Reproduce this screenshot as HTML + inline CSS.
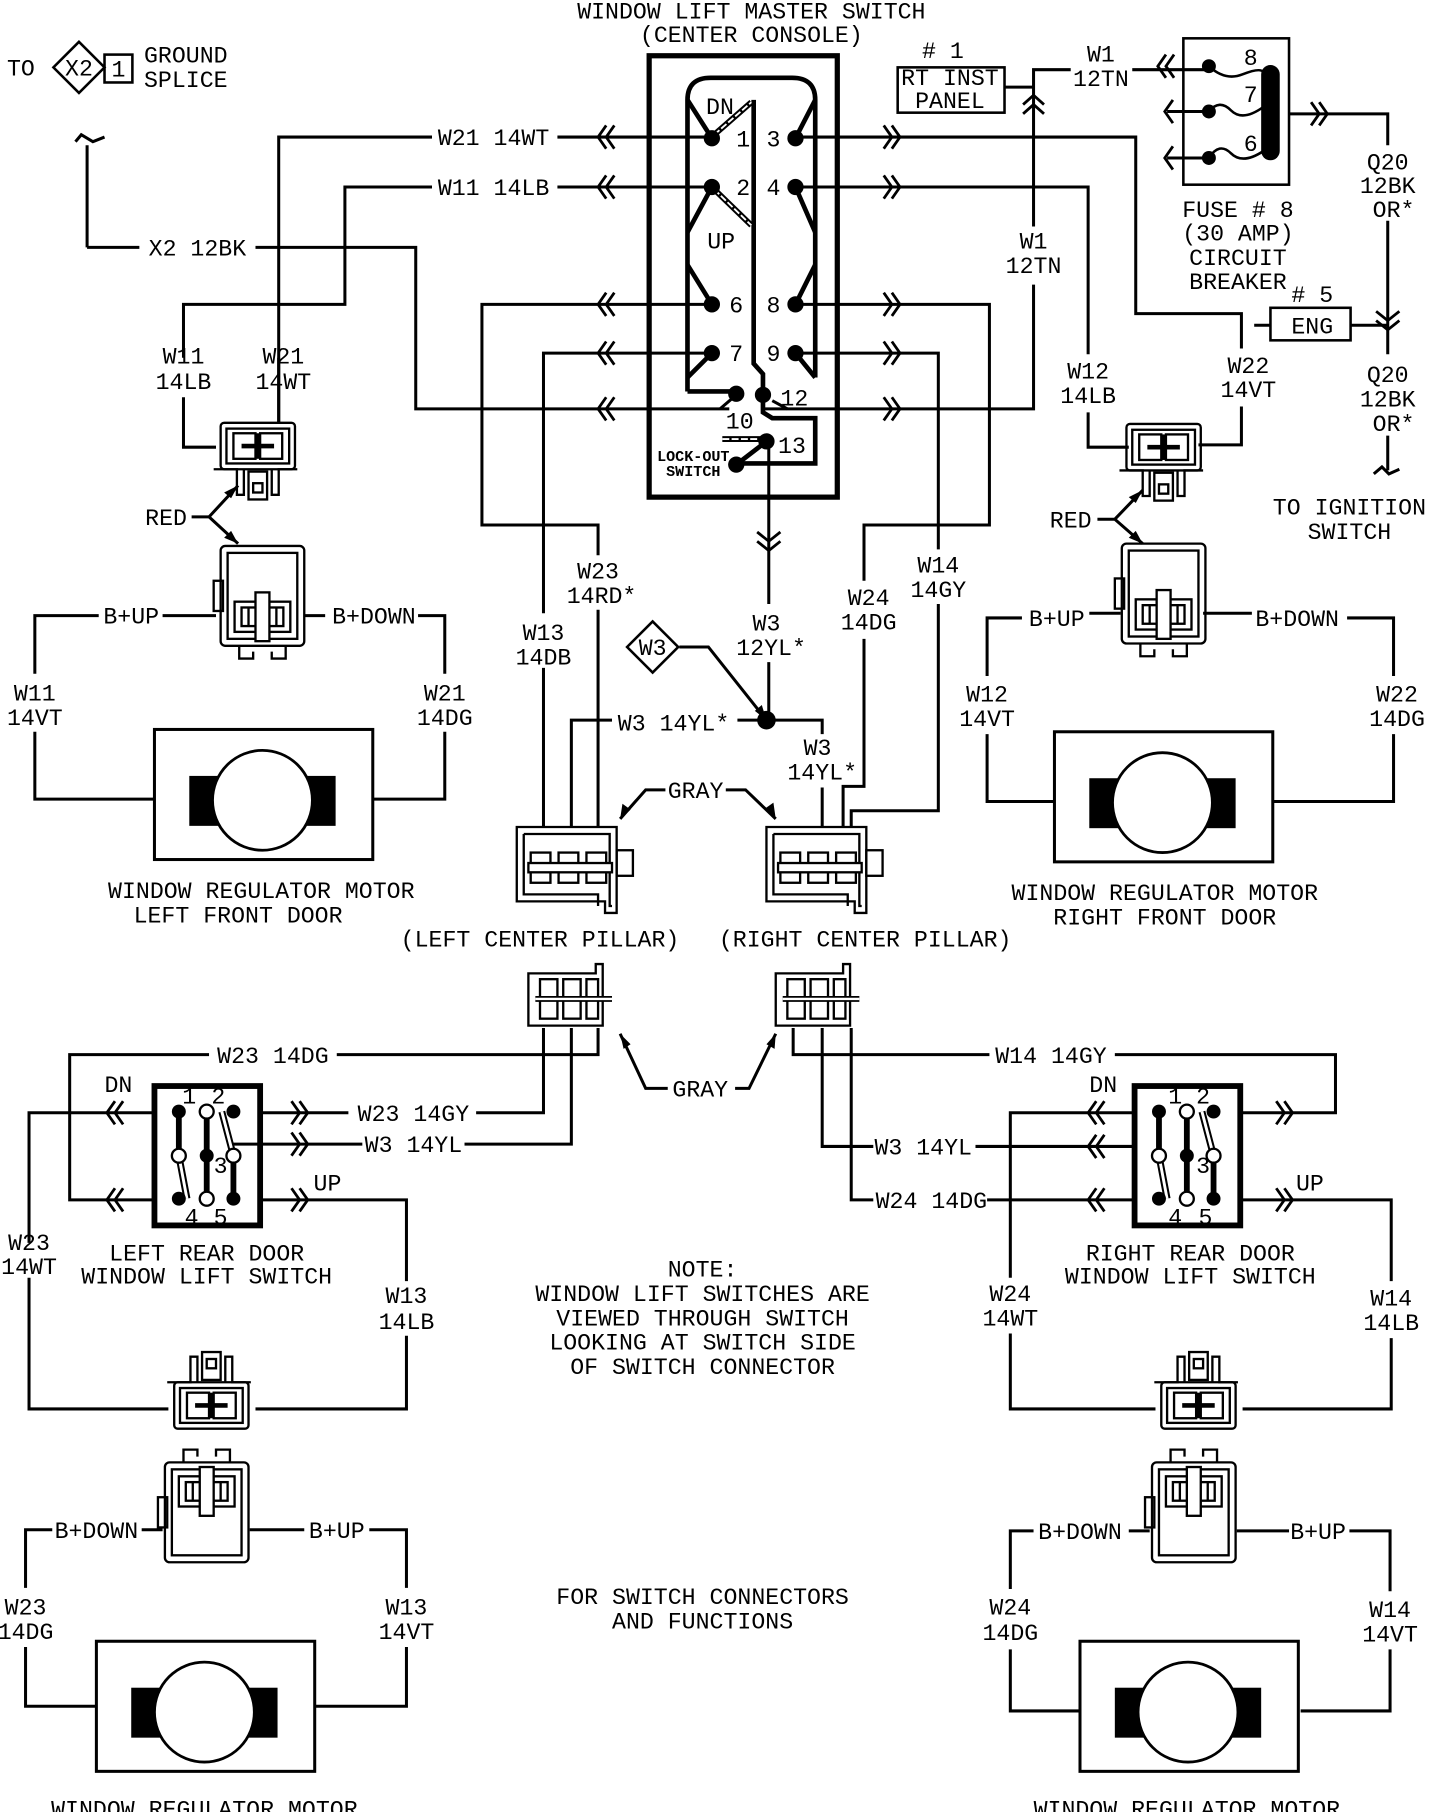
<!DOCTYPE html>
<html><head><meta charset="utf-8"><style>
html,body{margin:0;padding:0;background:#fff}
svg{display:block}
text{font-family:"Liberation Mono",monospace;font-size:20px;fill:#000;text-anchor:middle}
.l{text-anchor:start}
.s{font-size:13px;font-weight:bold}
</style></head><body>
<svg width="1440" height="1812" viewBox="0 0 1240 1560" preserveAspectRatio="none" xmlns="http://www.w3.org/2000/svg">
<defs>
<path id="cl" d="M4,-10 L-3,0 L4,10 M11,-10 L4,0 L11,10" fill="none" stroke="#000" stroke-width="2.4"/>
<path id="cr" d="M-4,-10 L3,0 L-4,10 M-11,-10 L-4,0 L-11,10" fill="none" stroke="#000" stroke-width="2.4"/>
<path id="c1" d="M4,-10 L-3,0 L4,10" fill="none" stroke="#000" stroke-width="2.4"/>
<g id="uc" fill="none" stroke="#000" stroke-width="2">
 <rect x="0" y="0" width="64" height="40" rx="3"/>
 <rect x="5" y="5" width="54" height="30"/>
 <rect x="11" y="9" width="19" height="22"/><rect x="34" y="9" width="19" height="22"/>
 <path d="M18,20 H46" stroke-width="4"/><path d="M32,9 V31" stroke-width="3"/>
 <path d="M-6,40 H14 V62 H20 V40 M44,40 V62 H50 V40 H66"/>
 <rect x="24" y="42" width="16" height="24"/><rect x="28" y="52" width="8" height="8"/>
</g>
<g id="mc" fill="none" stroke="#000" stroke-width="2">
 <rect x="0" y="0" width="72" height="86" rx="4"/>
 <rect x="6" y="6" width="60" height="74"/>
 <rect x="-6" y="30" width="8" height="26"/>
 <rect x="12" y="48" width="48" height="26"/><rect x="18" y="53" width="36" height="16"/>
 <rect x="30" y="40" width="12" height="42" fill="#fff"/>
 <path d="M24,53 V69 M48,53 V69"/>
 <path d="M16,86 V97 H28 V91 M44,91 V97 H56 V86"/>
</g>
<g id="rs">
 <rect x="0" y="0" width="91" height="120" fill="none" stroke="#000" stroke-width="5"/>
 <g stroke="#000" stroke-width="5"><path d="M21,22 V60 M45,22 V97 M68,60 V97"/></g>
 <path d="M21,60 L28,97 M58,22 L68,60" stroke="#000" stroke-width="6"/>
 <path d="M21,60 L28,97 M58,22 L68,60" stroke="#fff" stroke-width="2.5"/>
 <g fill="#000"><circle cx="21" cy="22" r="6"/><circle cx="21" cy="97" r="6"/><circle cx="45" cy="60" r="6"/><circle cx="68" cy="22" r="6"/><circle cx="68" cy="97" r="6"/></g>
 <g fill="#fff" stroke="#000" stroke-width="2"><circle cx="21" cy="60" r="6"/><circle cx="45" cy="22" r="6"/><circle cx="45" cy="97" r="6"/><circle cx="68" cy="60" r="6"/></g>
</g>
<g id="motor">
 <rect x="0" y="0" width="188" height="112" fill="none" stroke="#000" stroke-width="2.6"/>
 <rect x="30" y="40" width="126" height="43" fill="#000"/>
 <circle cx="93" cy="61" r="43" fill="#fff" stroke="#000" stroke-width="2.4"/>
</g>
<g id="pc" fill="none" stroke="#000" stroke-width="2">
 <path d="M0,0 H86 V74 H76 V64 H0 Z"/><path d="M6,6 H80 V68 H82 M6,6 V58 H70 V68"/>
 <rect x="86" y="20" width="14" height="22"/>
 <rect x="12" y="22" width="17" height="26"/><rect x="36" y="22" width="17" height="26"/><rect x="60" y="22" width="17" height="26"/>
 <rect x="10" y="31" width="72" height="8" fill="#fff"/>
</g>
<g id="lc" fill="none" stroke="#000" stroke-width="2">
 <path d="M0,5 H58 V-3 H64 V50 H0 Z"/>
 <rect x="10" y="10" width="15" height="34"/><rect x="30" y="10" width="15" height="34"/><rect x="50" y="10" width="10" height="34"/>
 <path d="M6,27 H72" stroke-width="5"/><path d="M6,27 H72" stroke="#fff" stroke-width="2"/>
</g>
</defs>

<g fill="none" stroke="#000" stroke-width="2.6">
<path d="M75,213 V125 M65,122 L70,116 L80,122 L90,118"/>
<path d="M75,213 H120 M220,213 H358 V352 H628"/>
<path d="M613,118 H480 M372,118 H240 V365"/>
<path d="M613,161 H480 M372,161 H297 V262 H158 V308 M158,342 V385 H186"/>
<path d="M240,308 V342 M240,342 V365"/>
<path d="M613,262 H415 V452 H515 V478 M515,525 V712"/>
<path d="M613,304 H468 V528 M468,575 V712"/>
<path d="M685,118 H978 V270 H1069 V300 M1069,350 V383 H1032"/>
<path d="M685,161 H937 V305 M937,355 V385 H972"/>
<path d="M685,262 H852 V452 H744 V500 M744,550 V677 H726 V712"/>
<path d="M685,304 H808 V473 M808,520 V698 H733 V712"/>
<path d="M657,352 H890 V245 M890,195 V60 H922 M975,60 H1041"/>
<path d="M1005,96 H1041 M1005,136 H1041"/>
<path d="M865,75 H890"/>
<path d="M662,380 V520 M662,570 V620"/>
<path d="M1110,98 H1195 V125 M1195,190 V305 M1195,375 V405 M1183,408 L1190,402 L1196,408 L1205,404"/>
<path d="M1080,280 H1094 M1163,280 H1195"/>
<path d="M585,557 H610 L660,620 M660,620 H635 M527,620 H492 V712 M660,620 H708 V632 M708,678 V712"/>
<path d="M573,680 H556 L534,705 M625,680 H642 L668,705"/>
<path d="M575,937 H556 L534,890 M633,937 H645 L668,890"/>
<path d="M468,885 V958 H410 M300,958 H224 M492,885 V985 H400 M312,985 H200 M515,885 V908 H290 M180,908 H60 V1033 H133"/>
<path d="M133,958 H25 V1070 M25,1100 V1213 H145 M224,1033 H350 V1103 M350,1150 V1213 H220"/>
<path d="M683,885 V908 H852 M960,908 H1150 V958 H1067 M708,885 V987 H752 M840,987 H976 M733,885 V1033 H752 M850,1033 H976"/>
<path d="M976,958 H870 V1100 M870,1148 V1213 H995 M1067,1033 H1198 V1103 M1198,1152 V1213 H1070"/>
<path d="M186,530 H140 M85,530 H30 V580 M30,630 V688 H133 M262,530 H280 M360,530 H383 V580 M383,630 V688 H320"/>
<path d="M965,528 H938 M880,532 H850 V582 M850,632 V690 H908 M1036,528 H1078 M1160,532 H1200 V582 M1200,632 V690 H1095"/>
<path d="M140,1317 H122 M45,1317 H22 V1367 M22,1418 V1469 H83 M215,1317 H262 M318,1317 H350 V1367 M350,1418 V1469 H271"/>
<path d="M990,1318 H972 M890,1318 H870 V1368 M870,1420 V1473 H930 M1065,1318 H1110 M1162,1318 H1197 V1370 M1197,1420 V1473 H1120"/>
<path d="M165,445 H180 L205,418 M180,445 L205,468 M945,447 H960 L984,422 M960,447 L984,468"/>
</g>
<g fill="#000">
<path d="M205,418 l-12,6 l6,5z M205,468 l-12,-5 l6,-6z M984,422 l-12,6 l6,5z M984,468 l-12,-5 l6,-6z"/>
<path d="M534,705 l2,-13 l7,5z M668,705 l-9,-9 l7,-5z M534,890 l9,9 l-6,4z M668,890 l-1,13 l-7,-4z"/>
<path d="M660,620 l-10,-8 l6,-5z"/>
<circle cx="660" cy="620" r="8"/>
</g>
<g>
<use href="#cl" x="518" y="118"/><use href="#cl" x="518" y="161"/><use href="#cl" x="518" y="262"/><use href="#cl" x="518" y="304"/><use href="#cl" x="518" y="352"/>
<use href="#cr" x="772" y="118"/><use href="#cr" x="772" y="161"/><use href="#cr" x="772" y="262"/><use href="#cr" x="772" y="304"/><use href="#cr" x="772" y="352"/>
<use href="#cl" x="1000" y="57"/><use href="#c1" x="1006" y="96"/><use href="#c1" x="1006" y="136"/><use href="#cr" x="1140" y="98"/>
<use href="#cl" x="95" y="958"/><use href="#cl" x="95" y="1033"/><use href="#cr" x="262" y="958"/><use href="#cr" x="262" y="985"/><use href="#cr" x="262" y="1033"/>
<use href="#cl" x="940" y="958"/><use href="#cl" x="940" y="987"/><use href="#cl" x="940" y="1033"/><use href="#cr" x="1110" y="958"/><use href="#cr" x="1110" y="1033"/>
<path d="M652,458 L662,466 L672,458 M652,466 L662,474 L672,466 M1185,268 L1195,276 L1205,268 M1185,276 L1195,284 L1205,276" fill="none" stroke="#000" stroke-width="2.4"/>
<path d="M881,90 L890,82 L899,90 M881,98 L890,90 L899,98" fill="none" stroke="#000" stroke-width="2.4"/>
</g>

<rect x="559" y="48" width="162" height="380" fill="none" stroke="#000" stroke-width="4.5"/>
<g fill="none" stroke="#000" stroke-width="4">
<path d="M592,337 V86 Q592,67 612,67 H682 Q702,67 702,86 V325"/>
<path d="M592,86 L613,119 M592,200 L613,161 M592,228 L613,262 M592,325 L613,304"/>
<path d="M702,86 L685,119 M702,200 L685,161 M702,228 L685,262 M702,325 L685,304"/>
<path d="M592,337 H634"/>
<path d="M649,86 V313 L657,322 V340 V355 L665,360 H702 V399 H634"/>
<path d="M660,380 L634,400"/>
</g>
<path d="M620,352 L634,340 M665,345 L678,352" stroke="#000" stroke-width="2.6"/>
<g stroke="#000" stroke-width="5" fill="none"><path d="M615,116 L647,88 M615,163 L647,194 M622,378 H655"/></g>
<g stroke="#fff" stroke-width="1.6" fill="none" stroke-dasharray="6 2"><path d="M615,116 L647,88 M615,163 L647,194 M622,378 H655"/></g>
<g fill="#000">
<circle cx="613" cy="119" r="7"/><circle cx="613" cy="161" r="7"/><circle cx="613" cy="262" r="7"/><circle cx="613" cy="304" r="7"/>
<circle cx="685" cy="119" r="7"/><circle cx="685" cy="161" r="7"/><circle cx="685" cy="262" r="7"/><circle cx="685" cy="304" r="7"/>
<circle cx="634" cy="339" r="7"/><circle cx="657" cy="340" r="7"/><circle cx="660" cy="380" r="7"/><circle cx="634" cy="400" r="7"/>
</g>
<text x="620" y="98">DN</text><text x="621" y="214">UP</text>
<text x="640" y="126">1</text><text x="666" y="126">3</text><text x="640" y="168">2</text><text x="666" y="168">4</text>
<text x="634" y="269">6</text><text x="666" y="269">8</text><text x="634" y="311">7</text><text x="666" y="311">9</text>
<text x="637" y="369">10</text><text x="684" y="349">12</text><text x="682" y="390">13</text>
<text class="s" x="597" y="397">LOCK-OUT</text><text class="s" x="597" y="410">SWITCH</text>

<rect x="1019" y="33" width="91" height="126" fill="none" stroke="#000" stroke-width="2.2"/>
<rect x="1086" y="56" width="16" height="82" rx="8" fill="#000"/>
<g fill="none" stroke="#000" stroke-width="2.2"><path d="M1041,57 Q1055,70 1070,64 T1088,62 M1041,96 Q1050,85 1060,95 T1088,92 M1041,136 Q1050,122 1060,132 T1088,130"/></g>
<g fill="#000"><circle cx="1041" cy="57" r="6"/><circle cx="1041" cy="96" r="6"/><circle cx="1041" cy="136" r="6"/></g>
<text x="1077" y="56">8</text><text x="1077" y="88">7</text><text x="1077" y="130">6</text>
<rect x="1094" y="265" width="69" height="28" fill="none" stroke="#000" stroke-width="2.2"/>
<text x="1130" y="287">ENG</text><text x="1130" y="260"># 5</text>
<rect x="773" y="58" width="92" height="39" fill="none" stroke="#000" stroke-width="2.2"/>
<text x="818" y="73">RT INST</text><text x="818" y="93">PANEL</text><text x="812" y="50"># 1</text>

<use href="#uc" x="190" y="364"/>
<use href="#uc" x="970" y="365"/>
<use href="#mc" x="190" y="470"/>
<use href="#mc" x="966" y="468"/>
<use href="#uc" transform="translate(150,1230) scale(1,-1)"/>
<use href="#uc" transform="translate(1000,1230) scale(1,-1)"/>
<use href="#mc" transform="translate(142,1345) scale(1,-1)"/>
<use href="#mc" transform="translate(992,1345) scale(1,-1)"/>
<use href="#pc" x="445" y="712"/>
<use href="#pc" x="660" y="712"/>
<use href="#lc" x="455" y="833"/>
<use href="#lc" x="668" y="833"/>
<use href="#rs" x="133" y="935"/>
<use href="#rs" x="977" y="935"/>
<use href="#motor" x="133" y="628"/>
<use href="#motor" x="908" y="630"/>
<use href="#motor" x="83" y="1413"/>
<use href="#motor" x="930" y="1413"/>

<path d="M68,36 L46,58 L68,80 L90,58 Z" fill="none" stroke="#000" stroke-width="2.2"/>
<rect x="90" y="47" width="24" height="24" fill="none" stroke="#000" stroke-width="2.2"/>
<path d="M562,535 L540,557 L562,579 L584,557 Z" fill="none" stroke="#000" stroke-width="2.2"/>

<text x="647" y="16">WINDOW LIFT MASTER SWITCH</text>
<text x="647" y="36">(CENTER CONSOLE)</text>
<text x="18" y="65">TO</text><text x="68" y="65">X2</text><text x="102" y="66">1</text>
<text class="l" x="124" y="54">GROUND</text><text class="l" x="124" y="75">SPLICE</text>
<text x="425" y="125">W21 14WT</text><text x="425" y="168">W11 14LB</text><text x="170" y="220">X2 12BK</text>
<text x="158" y="313">W11</text><text x="158" y="335">14LB</text><text x="244" y="313">W21</text><text x="244" y="335">14WT</text>
<text x="143" y="452">RED</text><text x="922" y="454">RED</text>
<text x="113" y="537">B+UP</text><text x="322" y="537">B+DOWN</text>
<text x="30" y="603">W11</text><text x="30" y="624">14VT</text><text x="383" y="603">W21</text><text x="383" y="624">14DG</text>
<text x="225" y="773">WINDOW REGULATOR MOTOR</text><text x="205" y="794">LEFT FRONT DOOR</text>
<text x="515" y="498">W23</text><text x="518" y="519">14RD*</text>
<text x="468" y="551">W13</text><text x="468" y="572">14DB</text>
<text x="562" y="564">W3</text>
<text x="660" y="543">W3</text><text x="664" y="564">12YL*</text>
<text x="580" y="629">W3 14YL*</text>
<text x="704" y="650">W3</text><text x="708" y="671">14YL*</text>
<text x="748" y="521">W24</text><text x="748" y="542">14DG</text>
<text x="808" y="493">W14</text><text x="808" y="514">14GY</text>
<text x="890" y="214">W1</text><text x="890" y="235">12TN</text>
<text x="948" y="53">W1</text><text x="948" y="74">12TN</text>
<text x="1066" y="187">FUSE # 8</text><text x="1066" y="207">(30 AMP)</text><text x="1066" y="228">CIRCUIT</text><text x="1066" y="249">BREAKER</text>
<text x="1195" y="146">Q20</text><text x="1195" y="166">12BK</text><text x="1200" y="187">OR*</text>
<text x="1195" y="329">Q20</text><text x="1195" y="350">12BK</text><text x="1200" y="371">OR*</text>
<text x="1162" y="443">TO IGNITION</text><text x="1162" y="464">SWITCH</text>
<text x="937" y="326">W12</text><text x="937" y="347">14LB</text><text x="1075" y="321">W22</text><text x="1075" y="342">14VT</text>
<text x="910" y="539">B+UP</text><text x="1117" y="539">B+DOWN</text>
<text x="850" y="604">W12</text><text x="850" y="625">14VT</text><text x="1203" y="604">W22</text><text x="1203" y="625">14DG</text>
<text x="1003" y="775">WINDOW REGULATOR MOTOR</text><text x="1003" y="796">RIGHT FRONT DOOR</text>
<text x="599" y="687">GRAY</text>
<text x="465" y="815">(LEFT CENTER PILLAR)</text><text x="745" y="815">(RIGHT CENTER PILLAR)</text>
<text x="603" y="944">GRAY</text>
<text x="235" y="915">W23 14DG</text><text x="356" y="965">W23 14GY</text><text x="356" y="992">W3 14YL</text>
<text x="102" y="940">DN</text><text x="282" y="1025">UP</text>
<text x="163" y="950">1</text><text x="188" y="950">2</text><text x="190" y="1010">3</text><text x="165" y="1054">4</text><text x="190" y="1054">5</text>
<text x="25" y="1076">W23</text><text x="25" y="1097">14WT</text>
<text x="178" y="1085">LEFT REAR DOOR</text><text x="178" y="1105">WINDOW LIFT SWITCH</text>
<text x="350" y="1122">W13</text><text x="350" y="1144">14LB</text>
<text x="905" y="915">W14 14GY</text><text x="795" y="994">W3 14YL</text><text x="802" y="1040">W24 14DG</text>
<text x="950" y="940">DN</text><text x="1128" y="1025">UP</text>
<text x="1012" y="950">1</text><text x="1036" y="950">2</text><text x="1036" y="1010">3</text><text x="1012" y="1054">4</text><text x="1038" y="1054">5</text>
<text x="870" y="1120">W24</text><text x="870" y="1141">14WT</text>
<text x="1025" y="1085">RIGHT REAR DOOR</text><text x="1025" y="1105">WINDOW LIFT SWITCH</text>
<text x="1198" y="1124">W14</text><text x="1198" y="1145">14LB</text>
<text x="605" y="1099">NOTE:</text><text x="605" y="1120">WINDOW LIFT SWITCHES ARE</text><text x="605" y="1141">VIEWED THROUGH SWITCH</text><text x="605" y="1162">LOOKING AT SWITCH SIDE</text><text x="605" y="1183">OF SWITCH CONNECTOR</text>
<text x="605" y="1381">FOR SWITCH CONNECTORS</text><text x="605" y="1402">AND FUNCTIONS</text>
<text x="83" y="1324">B+DOWN</text><text x="290" y="1324">B+UP</text>
<text x="22" y="1390">W23</text><text x="22" y="1411">14DG</text><text x="350" y="1390">W13</text><text x="350" y="1411">14VT</text>
<text x="930" y="1325">B+DOWN</text><text x="1135" y="1325">B+UP</text>
<text x="870" y="1390">W24</text><text x="870" y="1412">14DG</text><text x="1197" y="1392">W14</text><text x="1197" y="1413">14VT</text>
<text x="176" y="1564">WINDOW REGULATOR MOTOR</text><text x="1022" y="1564">WINDOW REGULATOR MOTOR</text>
</svg>
</body></html>
